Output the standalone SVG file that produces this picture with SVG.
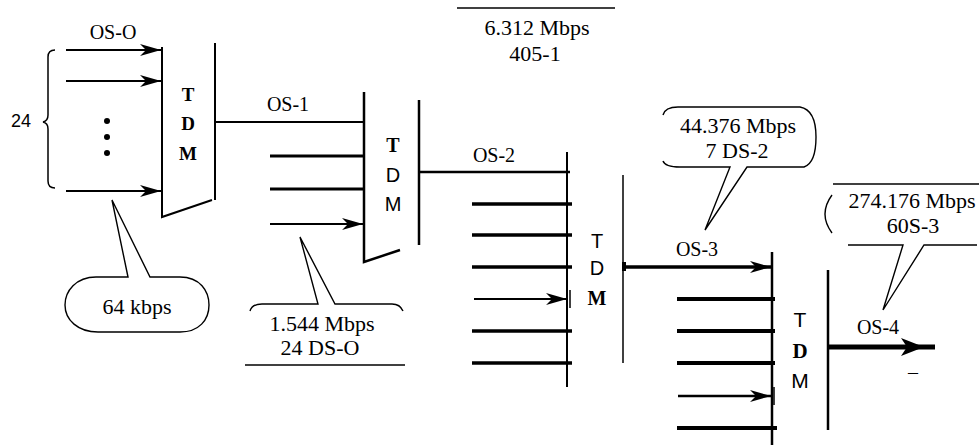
<svg xmlns="http://www.w3.org/2000/svg" width="979" height="445" viewBox="0 0 979 445">
<defs>
<style>
.ln{stroke:#000;stroke-width:2;fill:none;stroke-linecap:butt}
.thin{stroke:#000;stroke-width:1.5;fill:none}
.thk{stroke:#000;stroke-width:3.5;fill:none}
.co{stroke:#000;stroke-width:1.4;fill:none;stroke-linejoin:miter}
.lbl{font-family:"Liberation Serif","Times New Roman",serif;font-size:20px;fill:#000;text-anchor:middle}
.ctx{font-family:"Liberation Serif","Times New Roman",serif;font-size:22px;fill:#000;text-anchor:middle}
.bs{font-family:"Liberation Serif","Times New Roman",serif;font-size:20px;font-weight:bold;fill:#000;text-anchor:middle}
.ss{font-family:"Liberation Sans",Arial,sans-serif;font-size:20px;fill:#000;text-anchor:middle}
</style>
<marker id="ah" markerUnits="userSpaceOnUse" viewBox="-22 -7 24 14" refX="0" refY="0" markerWidth="24" markerHeight="14" orient="auto">
<path d="M0,0 L-21,-6 L-15,0 L-21,6 Z" fill="#000"/>
</marker>
</defs>

<g id="connectors">
<line class="ln" x1="66" y1="50" x2="161" y2="50" marker-end="url(#ah)"/>
<line class="ln" x1="66" y1="81" x2="161" y2="81" marker-end="url(#ah)"/>
<line class="ln" x1="66" y1="191" x2="161" y2="191" marker-end="url(#ah)"/>
<line class="ln" x1="215" y1="122" x2="364" y2="122"/>
<line class="thk" x1="270" y1="156" x2="364" y2="156" style="stroke-width:3"/>
<line class="thk" x1="270" y1="189" x2="364" y2="189" style="stroke-width:3"/>
<line class="ln" x1="270" y1="224" x2="363" y2="224" marker-end="url(#ah)"/>
<line class="ln" x1="419" y1="172" x2="570" y2="172" style="stroke-width:2.5"/>
<line class="thk" x1="472" y1="204" x2="572" y2="204"/>
<line class="thk" x1="472" y1="235" x2="572" y2="235"/>
<line class="thk" x1="472" y1="267" x2="572" y2="267"/>
<line class="ln" x1="474" y1="299" x2="567" y2="299" marker-end="url(#ah)"/>
<line class="thin" x1="570" y1="290" x2="570" y2="308"/>
<line class="thk" x1="472" y1="331" x2="572" y2="331"/>
<line class="thk" x1="472" y1="363" x2="572" y2="363"/>
<line class="thk" x1="624" y1="267" x2="771" y2="267" marker-end="url(#ah)"/>
<rect x="622" y="262" width="4" height="9" fill="#000"/>
<line class="thk" x1="677" y1="299" x2="775" y2="299" style="stroke-width:4"/>
<line class="thk" x1="677" y1="331" x2="775" y2="331" style="stroke-width:4"/>
<line class="thk" x1="677" y1="363" x2="775" y2="363" style="stroke-width:4"/>
<line class="ln" x1="678" y1="396" x2="771" y2="396" style="stroke-width:2.5" marker-end="url(#ah)"/>
<line class="thin" x1="774" y1="387" x2="774" y2="405"/>
<line class="thk" x1="677" y1="428" x2="777" y2="428" style="stroke-width:4"/>
<line class="thk" x1="828" y1="347" x2="935" y2="347" style="stroke-width:5"/>
<path d="M924,347 L901,338 L907,347 L901,356 Z" fill="#000"/>
</g>

<g id="input-group">
<path class="thin" d="M55,50 Q48,50 48,57 L48,115 Q48,121 43,122 Q48,123 48,129 L48,181 Q48,188 55,188"/>
<text x="21" y="127" font-family="Liberation Sans,Arial,sans-serif" font-size="18" text-anchor="middle">24</text>
<text class="lbl" x="113" y="39">OS-O</text>
<circle cx="107" cy="121" r="3"/>
<circle cx="107" cy="137" r="3"/>
<circle cx="107" cy="153" r="3"/>
</g>

<g id="tdm1">
<path class="ln" d="M162,47 L162,217 L212,200"/>
<line class="ln" x1="215" y1="43" x2="215" y2="200"/>
<text class="bs" x="188" y="101" style="font-size:19px">T</text>
<text class="bs" x="188" y="130" style="font-size:19px">D</text>
<text class="bs" x="188" y="160" style="font-size:19px">M</text>
<text class="lbl" x="288" y="111">OS-1</text>
</g>

<g id="tdm2">
<path class="ln" d="M364,92 L364,262 L400,250" style="stroke-width:2.5"/>
<line class="ln" x1="419" y1="100" x2="419" y2="245" style="stroke-width:2.5"/>
<text class="bs" x="393" y="152">T</text>
<text class="ss" x="393" y="182">D</text>
<text class="ss" x="393" y="211">M</text>
<text class="lbl" x="494" y="162">OS-2</text>
</g>

<g id="tdm3">
<line class="ln" x1="567" y1="152" x2="567" y2="387"/>
<line class="thin" x1="623" y1="175" x2="623" y2="363"/>
<text class="ss" x="597" y="248">T</text>
<text class="ss" x="597" y="275">D</text>
<text class="bs" x="597" y="305">M</text>
<text class="lbl" x="697" y="256">OS-3</text>
</g>

<g id="tdm4">
<line class="ln" x1="772" y1="252" x2="772" y2="445" style="stroke-width:2.5"/>
<line class="ln" x1="828" y1="270" x2="828" y2="430" style="stroke-width:2.5"/>
<text class="ss" x="800" y="327" style="font-size:21px">T</text>
<text class="bs" x="800" y="358" style="font-size:21px">D</text>
<text class="ss" x="800" y="388" style="font-size:21px">M</text>
<text class="lbl" x="878" y="334">OS-4</text>
<text class="lbl" x="913" y="379">–</text>
</g>

<g id="callout-64kbps">
<path class="co" d="M128,277 L112,200 L150,277 L180,277 C200,277 209,291 209,305 C209,320 199,332 180,332 L98,332 C78,332 65,320 65,305 C65,291 76,277 96,277 Z"/>
<text class="ctx" x="137" y="314">64 kbps</text>
</g>

<g id="callout-1544">
<path class="co" d="M250,311 Q252,304 262,304 L318,304 L300,237 L335,304 L392,304 Q400,304 403,311"/>
<text class="ctx" x="322" y="331">1.544 Mbps</text>
<text class="ctx" x="320" y="355">24 DS-O</text>
<line class="co" x1="245" y1="365" x2="405" y2="365"/>
</g>

<g id="callout-6312">
<line class="co" x1="457" y1="8" x2="615" y2="8"/>
<text class="ctx" x="537" y="35">6.312 Mbps</text>
<text class="ctx" x="535" y="61">405-1</text>
</g>

<g id="callout-44376">
<path class="co" d="M663,115 Q665,107 678,107 L800,107 Q816,110 816,137 Q816,163 804,167 L747,167 L705,230 L730,167 L680,167 Q665,167 663,161"/>
<text class="ctx" x="738" y="133">44.376 Mbps</text>
<text class="ctx" x="737" y="158">7 DS-2</text>
</g>

<g id="callout-274176">
<line class="co" x1="833" y1="184" x2="979" y2="184"/>
<path class="co" d="M832,195 Q818,214 832,233"/>
<path class="co" d="M848,245 L903,245 L883,310 L924,245 L977,245"/>
<text class="ctx" x="912" y="208">274.176 Mbps</text>
<text class="ctx" x="913" y="233">60S-3</text>
</g>
</svg>
